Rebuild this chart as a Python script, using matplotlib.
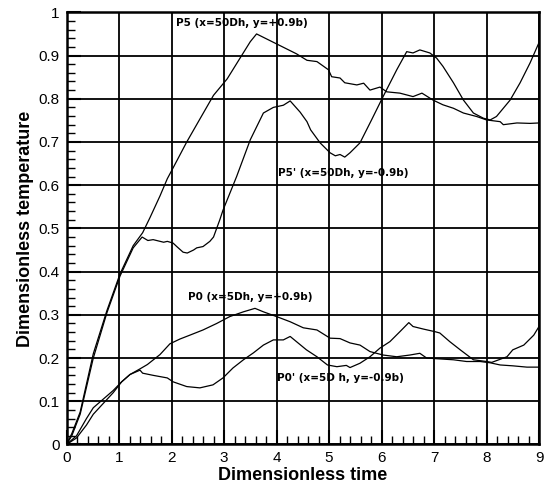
"""Dimensionless temperature at probes P0/P0' and P5/P5' versus time."""

import matplotlib

matplotlib.use("Agg")
import matplotlib.pyplot as plt
from matplotlib.ticker import MultipleLocator

# P5 (x=50Dh, y=+0.9b)
p5_t = [0, 0.1, 0.26, 0.51, 0.77, 1.02, 1.27, 1.45, 1.59, 1.78, 1.92, 2.03, 2.29,
        2.54, 2.8, 3.06, 3.3, 3.5, 3.62, 4.0, 4.38, 4.58, 4.77, 4.99, 5.05, 5.21,
        5.3, 5.53, 5.66, 5.78, 5.97, 6.1, 6.35, 6.6, 6.77, 6.98, 7.17, 7.37, 7.56,
        7.81, 8.0, 8.26, 8.32, 8.58, 8.83, 9.0]
p5_T = [0, 0.025, 0.075, 0.21, 0.31, 0.395, 0.46, 0.49, 0.525, 0.575, 0.615, 0.64,
        0.70, 0.753, 0.808, 0.846, 0.893, 0.932, 0.95, 0.927, 0.904, 0.889, 0.886,
        0.867, 0.851, 0.848, 0.837, 0.832, 0.836, 0.82, 0.827, 0.816, 0.813, 0.805,
        0.813, 0.797, 0.786, 0.778, 0.767, 0.759, 0.751, 0.747, 0.74, 0.744, 0.743,
        0.744]

# P5' (x=50Dh, y=-0.9b)
p5b_t = [0, 0.1, 0.26, 0.51, 0.77, 1.02, 1.27, 1.44, 1.55, 1.65, 1.85, 1.92, 2.03,
         2.1, 2.22, 2.3, 2.42, 2.48, 2.6, 2.73, 2.8, 2.92, 2.98, 3.24, 3.5, 3.75,
         3.94, 4.13, 4.26, 4.45, 4.58, 4.65, 4.83, 5.02, 5.12, 5.21, 5.3, 5.4, 5.59,
         5.81, 6.03, 6.29, 6.48, 6.6, 6.73, 6.92, 7.05, 7.17, 7.37, 7.56, 7.75, 7.94,
         8.07, 8.19, 8.45, 8.64, 8.83, 9.0]
p5b_T = [0, 0.02, 0.07, 0.2, 0.305, 0.39, 0.455, 0.48, 0.472, 0.474, 0.468, 0.47,
         0.466, 0.458, 0.445, 0.443, 0.45, 0.455, 0.458, 0.47, 0.48, 0.52, 0.542,
         0.62, 0.705, 0.767, 0.78, 0.785, 0.795, 0.769, 0.747, 0.728, 0.698, 0.675,
         0.668, 0.671, 0.665, 0.675, 0.698, 0.751, 0.805, 0.867, 0.909, 0.906, 0.913,
         0.906, 0.894, 0.875, 0.837, 0.797, 0.767, 0.755, 0.751, 0.759, 0.797, 0.837,
         0.883, 0.93]

# P0 (x=5Dh, y=+0.9b)
p0_t = [0, 0.19, 0.38, 0.51, 0.7, 0.89, 1.05, 1.21, 1.4, 1.54, 1.78, 1.97, 2.16,
        2.35, 2.6, 2.86, 3.11, 3.37, 3.59, 3.75, 4.0, 4.26, 4.51, 4.77, 5.02, 5.21,
        5.4, 5.59, 5.78, 6.03, 6.29, 6.54, 6.73, 6.86, 7.11, 7.37, 7.62, 7.88, 8.07,
        8.26, 8.5, 8.77, 9.0]
p0_T = [0, 0.02, 0.06, 0.085, 0.105, 0.125, 0.145, 0.162, 0.175, 0.185, 0.208,
        0.233, 0.244, 0.253, 0.265, 0.28, 0.296, 0.307, 0.315, 0.307, 0.296, 0.284,
        0.27, 0.265, 0.246, 0.245, 0.235, 0.23, 0.215, 0.207, 0.203, 0.207, 0.211,
        0.2, 0.198, 0.196, 0.192, 0.192, 0.189, 0.184, 0.182, 0.179, 0.179]

# P0' (x=5Dh, y=-0.9b)
p0b_t = [0, 0.19, 0.38, 0.51, 0.7, 0.89, 1.05, 1.21, 1.4, 1.45, 1.65, 1.92, 2.03,
         2.29, 2.54, 2.79, 2.98, 3.17, 3.37, 3.56, 3.75, 3.94, 4.13, 4.26, 4.38,
         4.57, 4.77, 4.97, 5.15, 5.33, 5.4, 5.59, 5.78, 5.97, 6.16, 6.35, 6.52, 6.6,
         6.8, 7.02, 7.11, 7.3, 7.5, 7.75, 8.0, 8.1, 8.39, 8.5, 8.71, 8.9, 9.0]
p0b_T = [0, 0.015, 0.045, 0.07, 0.095, 0.12, 0.145, 0.162, 0.172, 0.165, 0.16,
         0.154, 0.145, 0.134, 0.131, 0.138, 0.154, 0.177, 0.196, 0.212, 0.23, 0.242,
         0.242, 0.25, 0.238, 0.219, 0.203, 0.184, 0.18, 0.183, 0.178, 0.188, 0.203,
         0.223, 0.238, 0.261, 0.282, 0.273, 0.267, 0.261, 0.258, 0.238, 0.219, 0.196,
         0.192, 0.19, 0.203, 0.219, 0.23, 0.253, 0.273]

labels = ["P5 (x=50Dh, y=+0.9b)", "P5' (x=50Dh, y=-0.9b)",
          "P0 (x=5Dh, y=+0.9b)", "P0' (x=5D h, y=-0.9b)"]
label_pos = [(2.09, 0.975), (4.03, 0.628), (2.32, 0.342), (4.0, 0.153)]

x_ticks = list(range(10))
y_ticks = [0, 0.1, 0.2, 0.3, 0.4, 0.5, 0.6, 0.7, 0.8, 0.9, 1.0]
y_ticklabels = ["0", "0.1", "0.2", "0.3", "0.4", "0.5", "0.6", "0.7", "0.8", "0.9", "1"]

plt.rcParams["font.family"] = ["Liberation Sans", "DejaVu Sans"]

fig = plt.figure(figsize=(5.47, 4.87), dpi=100)
ax = fig.add_axes([0.1216, 0.0873, 0.8638, 0.8874])

for t, T in [(p5_t, p5_T), (p5b_t, p5b_T), (p0_t, p0_T), (p0b_t, p0b_T)]:
    ax.plot(t, T, color="black", linewidth=0.9)

for text, (x, y) in zip(labels, label_pos):
    ax.text(x, y, text, fontsize=7.5, fontweight="bold", family="DejaVu Sans",
            ha="left", va="center")

ax.set_xlim(0, 9)
ax.set_ylim(0, 1)
ax.set_xticks(x_ticks)
ax.set_yticks(y_ticks)
ax.set_yticklabels(y_ticklabels)
ax.xaxis.set_minor_locator(MultipleLocator(0.2))
ax.yaxis.set_minor_locator(MultipleLocator(0.02))
ax.tick_params(which="major", direction="in", length=10, width=1.5,
               labelsize=11, pad=5, top=False, right=False)
ax.tick_params(which="minor", direction="in", length=6, width=1.0,
               top=False, right=False)
ax.grid(True, which="major", color="black", linewidth=1.3)
for s in ax.spines.values():
    s.set_linewidth(1.8)

ax.set_xlabel("Dimensionless time", fontsize=13, fontweight="bold", labelpad=1)
ax.set_ylabel("Dimensionless temperature", fontsize=13, fontweight="bold", labelpad=3)

fig.savefig("out.png", dpi=100)
